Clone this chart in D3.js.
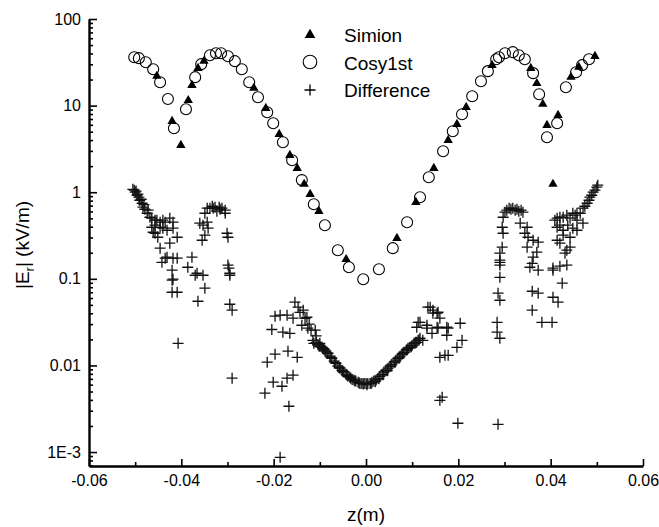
<!DOCTYPE html>
<html>
<head>
<meta charset="utf-8">
<title>|Er| vs z</title>
<script src="https://cdn.jsdelivr.net/npm/d3@7/dist/d3.min.js"></script>
<style>
  body{margin:0;background:#fff;}
  text{font-family:"Liberation Sans",Arial,sans-serif;}
</style>
</head>
<body>
<div id="chart"></div>
<script>
// ---- data (z in m, |Er| in kV/m)
var simionZ = [-0.0453,-0.0420,-0.0401,-0.0385,-0.0377,-0.0364,-0.0351,-0.0243,-0.0217,-0.0188,-0.0165,-0.0149,-0.0134,-0.0121,-0.0102,-0.0043,
  0.0067,0.0108,0.0147,0.0178,0.0197,0.0217,0.0273,0.0357,0.0370,0.0383,0.0392,0.0405,0.0416,0.0444,0.0461,0.0496];
var simionE = [21.9,6.6,3.49,11.5,17.2,27.0,32.6,15.9,9.33,4.67,2.67,1.89,1.24,0.948,0.603,0.168,
  0.294,0.767,1.89,3.98,6.10,9.59,29.3,27.0,18.1,10.4,5.94,1.24,7.74,21.3,27.8,37.2];

var cosyZ = [-0.0502,-0.0492,-0.0477,-0.0461,-0.0446,-0.0429,-0.0416,-0.0390,-0.0370,-0.0357,-0.0338,-0.0325,-0.0314,-0.0299,-0.0284,-0.0269,
  -0.0253,-0.0234,-0.0214,-0.0201,-0.0180,-0.0160,-0.0139,-0.0113,-0.0089,-0.0061,-0.0037,-0.0006,0.0028,0.0058,0.0089,0.0117,
  0.0136,0.0167,0.0188,0.0208,0.0230,0.0249,0.0264,0.0282,0.0288,0.0301,0.0318,0.0331,0.0344,0.0362,0.0375,0.0392,
  0.0414,0.0433,0.0455,0.0468,0.0483];
var cosyE = [36.2,35.3,31.7,26.3,18.6,11.9,5.48,9.09,21.3,30.1,38.2,40.3,40.3,37.2,32.6,26.3,
  18.6,12.5,8.39,6.26,3.78,2.34,1.38,0.727,0.416,0.214,0.136,0.099,0.129,0.226,0.45,0.875,
  1.49,2.97,5.06,7.96,12.8,19.1,25.0,34.3,36.2,40.3,41.4,38.2,34.3,23.7,13.5,4.32,
  6.26,16.3,24.3,29.3,34.3];

var diffZ = [
  // left cluster
  -0.0505,-0.0502,-0.0500,-0.0498,-0.0496,-0.0494,-0.0492,-0.0490,-0.0487,-0.0485,-0.0483,-0.0481,-0.0479,-0.0474,-0.0472,-0.0468,
  -0.0464,-0.0464,-0.0461,-0.0457,-0.0457,-0.0457,-0.0453,-0.0451,-0.0446,-0.0446,-0.0446,-0.0442,-0.0440,-0.0440,-0.0435,-0.0435,
  -0.0431,-0.0431,-0.0425,-0.0425,-0.0420,-0.0420,-0.0420,-0.0418,-0.0418,-0.0418,-0.0418,-0.0409,-0.0409,-0.0409,-0.0407,
  -0.0386,-0.0377,-0.0370,-0.0366,-0.0364,-0.0360,-0.0355,-0.0353,-0.0353,-0.0349,-0.0349,-0.0349,-0.0344,-0.0344,-0.0342,
  -0.0338,-0.0333,-0.0331,-0.0327,-0.0323,-0.0318,-0.0316,-0.0312,-0.0305,-0.0305,-0.0301,-0.0299,-0.0299,-0.0297,-0.0295,
  -0.0295,-0.0295,-0.0290,-0.0290,
  // centre-left scatter
  -0.0219,-0.0214,-0.0204,-0.0201,-0.0197,-0.0197,-0.0186,-0.0186,-0.0182,-0.0180,-0.0171,-0.0171,-0.0169,-0.0167,-0.0165,
  -0.0158,-0.0158,-0.0154,-0.0149,-0.0147,-0.0143,-0.0139,-0.0136,-0.0132,-0.0128,-0.0126,-0.0123,-0.0119,-0.0110,-0.0108,
  -0.0100,-0.0089,
  // centre valley
  -0.0115,-0.0108,-0.0104,-0.0100,-0.0095,-0.0091,-0.0087,-0.0082,-0.0078,-0.0074,-0.0069,-0.0065,-0.0061,-0.0056,-0.0052,
  -0.0048,-0.0043,-0.0039,-0.0035,-0.0030,-0.0026,-0.0022,-0.0017,-0.0013,-0.0009,-0.0004,0.0000,0.0004,0.0009,0.0013,
  0.0017,0.0022,0.0026,0.0030,0.0035,0.0039,0.0043,0.0048,0.0052,0.0056,0.0061,0.0065,0.0069,0.0074,0.0078,0.0082,
  0.0087,0.0091,0.0095,0.0100,0.0104,0.0108,0.0113,0.0117,
  -0.0113,-0.0102,-0.0093,-0.0084,-0.0076,-0.0067,-0.0058,-0.0050,-0.0041,-0.0033,-0.0024,-0.0015,-0.0006,0.0002,0.0011,
  0.0020,0.0028,0.0037,0.0046,0.0054,0.0063,0.0072,0.0080,0.0089,0.0098,0.0106,0.0115,
  // centre-right scatter
  0.0110,0.0110,0.0113,0.0117,0.0123,0.0132,0.0132,0.0134,0.0139,0.0143,0.0145,0.0145,0.0154,0.0154,0.0156,0.0156,
  0.0160,0.0160,0.0160,0.0165,0.0171,0.0175,0.0175,0.0178,0.0178,0.0197,0.0199,0.0204,0.0208,0.0286,
  // right cluster
  0.0284,0.0284,0.0290,0.0286,0.0290,0.0290,0.0290,0.0290,0.0290,0.0290,0.0295,0.0297,0.0295,0.0297,0.0301,0.0305,
  0.0310,0.0314,0.0318,0.0323,0.0327,0.0331,0.0336,0.0340,0.0334,0.0349,0.0344,0.0351,0.0362,0.0373,0.0349,0.0355,
  0.0362,0.0370,0.0360,0.0373,0.0360,0.0373,0.0360,0.0381,0.0403,0.0405,0.0416,0.0425,0.0405,0.0405,0.0420,0.0435,
  0.0414,0.0427,0.0409,0.0420,0.0435,0.0448,0.0420,0.0437,0.0448,0.0435,0.0442,0.0414,0.0414,0.0427,0.0427,0.0442,
  0.0442,0.0420,0.0431,0.0453,0.0457,0.0457,0.0457,0.0464,0.0470,0.0470,0.0474,0.0479,0.0483,0.0485,0.0489,0.0492,
  0.0496,0.0500,0.0502
];
var diffE = [
  1.08,1.055,1.0,1.03,0.923,0.95,0.876,0.808,0.83,0.746,0.671,0.72,0.636,0.572,0.62,0.514,
  0.501,0.394,0.345,0.475,0.416,0.336,0.475,0.302,0.451,0.394,0.226,0.155,0.475,0.384,0.451,0.173,
  0.364,0.178,0.501,0.258,0.126,0.0964,0.070,0.451,0.384,0.173,0.099,0.302,0.173,0.070,0.018,
  0.136,0.178,0.110,0.116,0.0551,0.439,0.279,0.416,0.110,0.572,0.319,0.078,0.654,0.451,0.384,
  0.654,0.689,0.654,0.671,0.604,0.671,0.636,0.654,0.620,0.572,0.336,0.302,0.144,0.133,0.116,
  0.110,0.0509,0.0434,0.00712,
  0.00478,0.0109,0.026,0.0064,0.037,0.0135,0.038,0.00087,0.00575,0.0242,0.038,0.00712,0.0146,0.00338,0.0235,
  0.0351,0.00771,0.0537,0.0124,0.047,0.041,0.0291,0.0434,0.035,0.036,0.0269,0.030,0.0255,0.0255,0.022,
  0.018,0.015,
  0.0195,0.0185,0.0175,0.0166,0.0162,0.0154,0.0146,0.0138,0.0128,0.0121,0.0112,0.0106,0.0098,0.0093,0.0088,
  0.0084,0.0079,0.0075,0.0073,0.0069,0.0068,0.0066,0.0064,0.0062,0.0062,0.0062,0.0062,0.0062,0.0062,0.0064,
  0.0066,0.0068,0.0071,0.0075,0.0079,0.0084,0.0088,0.0093,0.0098,0.0103,0.0109,0.0115,0.0121,0.0128,0.0135,0.0142,
  0.0150,0.0158,0.0162,0.0171,0.0180,0.0185,0.0195,0.0206,
  0.0180,0.0168,0.0156,0.0140,0.0124,0.0108,0.0094,0.0085,0.0077,0.0071,0.0066,0.0063,0.0061,0.0060,0.0062,
  0.0065,0.0070,0.0078,0.0087,0.0098,0.0109,0.0122,0.0137,0.0152,0.0164,0.0180,0.0196,
  0.0276,0.0185,0.0315,0.0315,0.0195,0.0291,0.0269,0.047,0.047,0.0235,0.0434,0.0401,0.0401,0.0276,0.0411,0.0269,
  0.0351,0.0124,0.00396,0.0043,0.0131,0.0276,0.0223,0.0269,0.0131,0.0162,0.00215,0.0307,0.0195,0.00209,
  0.0315,0.0242,0.0206,0.0682,0.0566,0.104,0.144,0.155,0.198,0.164,0.232,0.336,0.394,0.514,0.588,0.620,
  0.654,0.636,0.654,0.620,0.636,0.604,0.620,0.588,0.439,0.394,0.336,0.302,0.279,0.265,0.232,0.136,
  0.178,0.203,0.151,0.126,0.0719,0.0682,0.0434,0.0315,0.0315,0.0613,0.0537,0.089,0.126,0.133,0.140,0.144,
  0.279,0.319,0.475,0.514,0.543,0.572,0.416,0.416,0.384,0.214,0.232,0.501,0.394,0.364,0.514,0.501,
  0.302,0.258,0.198,0.543,0.572,0.475,0.364,0.572,0.654,0.439,0.689,0.746,0.808,0.876,0.923,1.0,
  1.055,1.142,1.205
];

var xTicks = [-0.06,-0.04,-0.02,0.00,0.02,0.04,0.06];
var xTickLabels = ["-0.06","-0.04","-0.02","0.00","0.02","0.04","0.06"];
var yTicks = [1e-3,0.01,0.1,1,10,100];
var yTickLabels = ["1E-3","0.01","0.1","1","10","100"];
var legendNames = ["Simion","Cosy1st","Difference"];

// ---- layout
var W = 659, H = 527;
var margin = {top: 19, right: 16, bottom: 61, left: 89};
var width = W - margin.left - margin.right,
    height = H - margin.top - margin.bottom;

var svg = d3.select("#chart").append("svg")
    .attr("width", W)
    .attr("height", H);

var g = svg.append("g")
    .attr("transform", "translate(" + margin.left + "," + margin.top + ")");

var x = d3.scaleLinear().domain([-0.06, 0.06]).range([0, width]);
var y = d3.scaleLog().domain([6.9e-4, 100]).range([height, 0]);

// minor ticks
var xMinor = d3.range(-0.05, 0.06, 0.02);
var yMinor = [];
[1e-3, 0.01, 0.1, 1, 10].forEach(function(d){
  for (var k = 2; k <= 9; k++) yMinor.push(d * k);
});
yMinor.push(7e-4, 8e-4, 9e-4);

g.append("g")
  .attr("transform", "translate(0," + height + ")")
  .call(d3.axisBottom(x).tickValues(xMinor).tickSize(-4).tickFormat(""))
  .call(function(s){ s.select(".domain").remove(); });

g.append("g")
  .call(d3.axisLeft(y).tickValues(yMinor).tickSize(-4).tickFormat(""))
  .call(function(s){ s.select(".domain").remove(); });

// major axes
var xAxis = g.append("g")
  .attr("class", "ax")
  .attr("transform", "translate(0," + height + ")")
  .call(d3.axisBottom(x).tickValues(xTicks).tickSize(-7).tickSizeOuter(0).tickPadding(9)
        .tickFormat(function(d, i){ return xTickLabels[i]; }));

var yAxis = g.append("g")
  .attr("class", "ax")
  .call(d3.axisLeft(y).tickValues(yTicks).tickSize(-8).tickSizeOuter(0).tickPadding(8)
        .tickFormat(function(d, i){ return yTickLabels[i]; }));

g.selectAll(".tick line").attr("stroke", "#000").attr("stroke-width", 1.6);
g.selectAll(".domain").attr("stroke", "#000").attr("stroke-width", 2.4);
g.selectAll(".tick text").attr("fill", "#000").style("font-size", "16px");

// ---- marks
var plus = "M-5.5,0H5.5M0,-5.5V5.5";

var diffData = diffZ.map(function(z, i){ return {z: z, e: diffE[i]}; });
g.append("g").selectAll("path")
  .data(diffData)
  .enter().append("path")
  .attr("d", plus)
  .attr("transform", function(d){ return "translate(" + x(d.z) + "," + y(d.e) + ")"; })
  .attr("stroke", "#111")
  .attr("stroke-width", 1.3)
  .attr("fill", "none");

var tri = d3.symbol().type(d3.symbolTriangle).size(38);
var simData = simionZ.map(function(z, i){ return {z: z, e: simionE[i]}; });
g.append("g").selectAll("path")
  .data(simData)
  .enter().append("path")
  .attr("d", tri)
  .attr("transform", function(d){ return "translate(" + x(d.z) + "," + y(d.e) + ")"; })
  .attr("fill", "#000");

var cosyData = cosyZ.map(function(z, i){ return {z: z, e: cosyE[i]}; });
g.append("g").selectAll("circle")
  .data(cosyData)
  .enter().append("circle")
  .attr("cx", function(d){ return x(d.z); })
  .attr("cy", function(d){ return y(d.e); })
  .attr("r", 5.5)
  .attr("fill", "none")
  .attr("stroke", "#000")
  .attr("stroke-width", 1.1);

// ---- legend
var leg = svg.append("g").attr("transform", "translate(310,35)");
leg.append("path").attr("d", d3.symbol().type(d3.symbolTriangle).size(50)).attr("fill", "#000");
leg.append("circle").attr("cx", 0).attr("cy", 27).attr("r", 6.8)
  .attr("fill", "none").attr("stroke", "#000").attr("stroke-width", 1.1);
leg.append("path").attr("d", plus).attr("transform", "translate(0,55)")
  .attr("stroke", "#000").attr("stroke-width", 1.3).attr("fill", "none");
leg.selectAll("text.lg")
  .data(legendNames)
  .enter().append("text")
  .attr("class", "lg")
  .attr("x", 34)
  .attr("y", function(d, i){ return i * 27.5 + 7; })
  .style("font-size", "19px")
  .text(function(d){ return d; });

// ---- axis titles
svg.append("text")
  .attr("x", margin.left + width / 2)
  .attr("y", 521)
  .attr("text-anchor", "middle")
  .style("font-size", "19px")
  .text("z(m)");

var yl = svg.append("text")
  .attr("transform", "translate(29,245) rotate(-90)")
  .attr("text-anchor", "middle")
  .style("font-size", "19px");
yl.append("tspan").text("|E");
yl.append("tspan").attr("dy", 5).style("font-size", "13px").text("r");
yl.append("tspan").attr("dy", -5).text("| (kV/m)");
</script>
</body>
</html>
